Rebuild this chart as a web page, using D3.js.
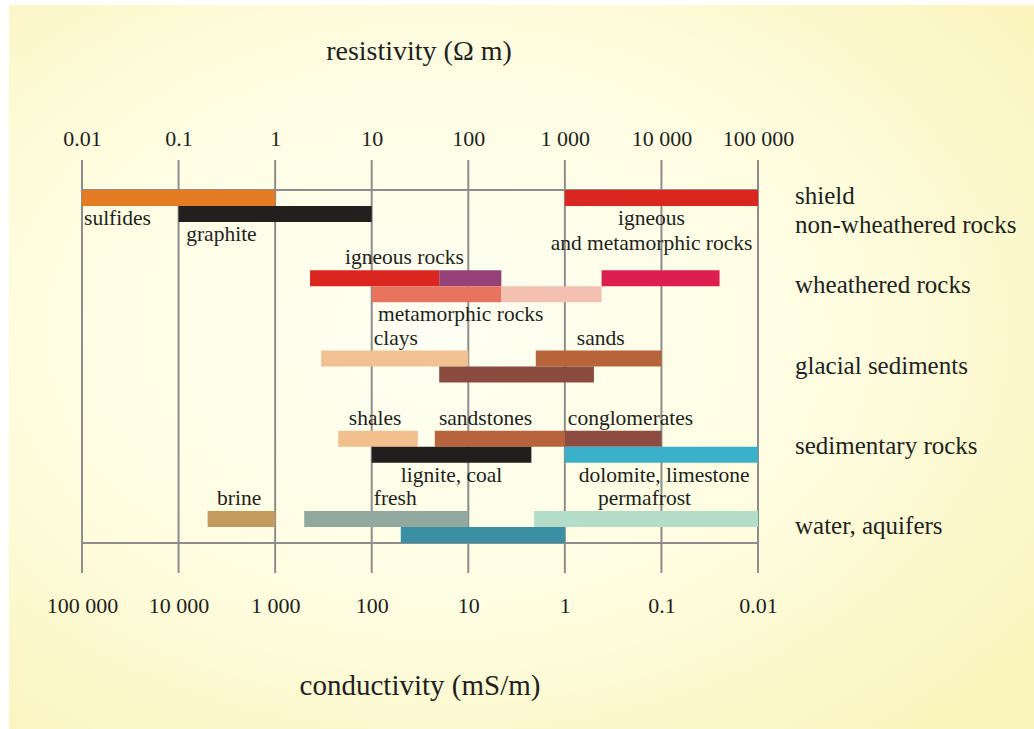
<!DOCTYPE html>
<html>
<head>
<meta charset="utf-8">
<script src="https://cdn.jsdelivr.net/npm/d3@7"></script>
<style>
  body { margin: 0; background: #fff; }
  svg text { font-family: "Liberation Serif", "Times New Roman", serif; fill: #231f20; }
</style>
</head>
<body>
<div id="chart"></div>
<script>
// resistivity ticks (ohm m) and conductivity ticks (mS/m)
const resTicks = [0.01, 0.1, 1, 10, 100, 1000, 10000, 100000];
const condTicks = [100000, 10000, 1000, 100, 10, 1, 0.1, 0.01];

// row groups, right-hand labels
const groups = ["shield", "weathered", "glacial", "sedimentary", "water"];
const groupLabels = [
  ["shield", "non-wheathered rocks"],
  ["wheathered rocks"],
  ["glacial sediments"],
  ["sedimentary rocks"],
  ["water, aquifers"]
];

// bars: resistivity range, group, lane inside group (0 = upper, 1 = lower)
const barLow  = [0.01, 0.1, 1000, 2.3, 50, 2400, 10, 220, 3, 500, 50, 4.5, 45, 1000, 10, 1000, 0.2, 2, 480, 20];
const barHigh = [1, 10, 100000, 50, 220, 40000, 220, 2400, 100, 10000, 2000, 30, 1000, 10000, 450, 100000, 1, 100, 100000, 1000];
const barGroup = [0, 0, 0, 1, 1, 1, 1, 1, 2, 2, 2, 3, 3, 3, 3, 3, 4, 4, 4, 4];
const barLane  = [0, 1, 0, 0, 0, 0, 1, 1, 0, 0, 1, 0, 0, 0, 1, 1, 0, 0, 0, 1];
const barColors = ["#e57b22", "#231f1f", "#d9261e", "#da261e", "#944277", "#dc1f50",
  "#e8735f", "#f4c0b0", "#f2c191", "#b8643a", "#8b4c3f", "#f2c08c", "#b7633b",
  "#8e4b3f", "#221e1e", "#3ab1c9", "#c49b5e", "#90a89d", "#b3ddc9", "#3a90a2"];

// bar labels: text, resistivity where the text sits, bar it belongs to, side
const labelText = ["sulfides", "graphite", "igneous", "and metamorphic rocks", "igneous rocks",
  "metamorphic rocks", "clays", "sands", "shales", "sandstones", "conglomerates",
  "lignite, coal", "dolomite, limestone", "brine", "fresh", "permafrost"];
const labelAt = [0.0105, 0.12, 7900, 7900, 5.3, 11.6, 10.5, 1330, 5.8, 49.6, 1074, 20, 1396, 0.25, 10.5, 2200];
const labelBar = [0, 1, 2, 2, 3, 6, 8, 9, 11, 12, 13, 14, 15, 16, 17, 18];
const labelSide = ["below", "below", "below", "below2", "above", "below", "above", "above",
  "above", "above", "above", "below", "below", "above", "above", "above"];

const width = 1034;
const height = 729;
const laneH = 16;

const svg = d3.select("#chart")
  .append("svg")
  .attr("width", width)
  .attr("height", height);

// background
const defs = svg.append("defs");
const grad = defs.append("radialGradient")
  .attr("id", "bg")
  .attr("cx", "42%").attr("cy", "45%").attr("r", "72%");
grad.append("stop").attr("offset", "0%").attr("stop-color", "#fffff4");
grad.append("stop").attr("offset", "55%").attr("stop-color", "#fefde0");
grad.append("stop").attr("offset", "100%").attr("stop-color", "#faf4bd");

svg.append("rect")
  .attr("x", 9).attr("y", 5)
  .attr("width", width - 9).attr("height", height - 5)
  .attr("fill", "url(#bg)");

const x = d3.scaleLog().domain([0.01, 100000]).range([82, 758]);
const xc = d3.scaleLog().domain([100000, 0.01]).range([82, 758]);
const y = d3.scaleBand().domain(groups).range([190, 190 + 80.25 * 5]).paddingInner(0);

const barTop = i => y(groups[barGroup[i]]) + barLane[i] * laneH;

// grid
const grid = svg.append("g").attr("stroke", "#8d8d8d").attr("stroke-width", 2);
grid.selectAll("line.v")
  .data(resTicks)
  .enter()
  .append("line")
  .attr("class", "v")
  .attr("x1", d => x(d)).attr("x2", d => x(d))
  .attr("y1", 160).attr("y2", 573);
grid.append("line")
  .attr("x1", x(0.01)).attr("x2", x(100000))
  .attr("y1", 190).attr("y2", 190);
grid.append("line")
  .attr("x1", x(0.01)).attr("x2", x(100000))
  .attr("y1", 543).attr("y2", 543);

// axes
const fmt = d => d3.format(",")(d).replace(/,/g, " ");

const topAxis = svg.append("g")
  .attr("transform", "translate(0,146)")
  .call(d3.axisTop(x).tickValues(resTicks).tickFormat(fmt).tickSize(0).tickPadding(0));
topAxis.select(".domain").remove();
topAxis.selectAll("text").style("font-size", "22px").attr("fill", "#231f20");

const bottomAxis = svg.append("g")
  .attr("transform", "translate(0,597)")
  .call(d3.axisBottom(xc).tickValues(condTicks).tickFormat(fmt).tickSize(0).tickPadding(0));
bottomAxis.select(".domain").remove();
bottomAxis.selectAll("text").style("font-size", "22px").attr("fill", "#231f20");

// titles
svg.append("text")
  .attr("x", 419).attr("y", 60)
  .attr("text-anchor", "middle")
  .style("font-size", "28px")
  .text("resistivity (Ω m)");

svg.append("text")
  .attr("x", 420).attr("y", 695)
  .attr("text-anchor", "middle")
  .style("font-size", "29px")
  .text("conductivity (mS/m)");

// bars
svg.append("g")
  .selectAll("rect")
  .data(barLow)
  .enter()
  .append("rect")
  .attr("x", (d, i) => x(d))
  .attr("width", (d, i) => x(barHigh[i]) - x(d))
  .attr("y", (d, i) => barTop(i))
  .attr("height", laneH)
  .attr("fill", (d, i) => barColors[i]);

// bar labels
svg.append("g")
  .selectAll("text")
  .data(labelText)
  .enter()
  .append("text")
  .attr("x", (d, i) => x(labelAt[i]))
  .attr("y", (d, i) => {
    const top = barTop(labelBar[i]);
    if (labelSide[i] === "above") return top - 6;
    if (labelSide[i] === "below2") return top + laneH + 44;
    return top + laneH + 19;
  })
  .attr("text-anchor", (d, i) => (labelAt[i] === 7900 ? "middle" : "start"))
  .style("font-size", "21.5px")
  .text(d => d);

// right-hand group labels
const rightLabels = svg.append("g");
groupLabels.forEach((lines, gi) => {
  const cy = y(groups[gi]) + laneH;
  const first = lines.length > 1 ? cy - 2 : cy + 7;
  lines.forEach((t, li) => {
    rightLabels.append("text")
      .attr("x", 795)
      .attr("y", first + li * 29)
      .style("font-size", "25px")
      .text(t);
  });
});
</script>
</body>
</html>
